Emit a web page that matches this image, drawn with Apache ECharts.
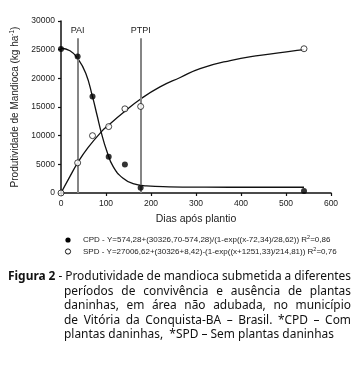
<!DOCTYPE html>
<html>
<head>
<meta charset="utf-8">
<script src="https://cdn.jsdelivr.net/npm/echarts@6/dist/echarts.min.js"></script>
<style>
html, body { margin: 0; padding: 0; background: #fff; }
#chart { width: 359px; height: 365px; }
</style>
</head>
<body>
<div id="chart"></div>
<script>
// observed points (days after planting, yield kg/ha)
const days = [0, 37, 70, 106, 142, 177, 540];
const cpdYield = [25100, 23800, 16840, 6320, 4980, 900, 350];
const spdYield = [0, 5260, 10000, 11580, 14680, 15090, 25160];

// fitted curves
const cpdCurveDays = [0, 20, 37, 55, 70, 80, 90, 101, 116, 138, 160, 190, 240, 320, 430, 540];
const cpdCurveYield = [25250, 24800, 23500, 20900, 16800, 13600, 10400, 7500, 4600, 2560, 1650, 1250, 1080, 1020, 1000, 1000];
const spdCurveDays = [0, 20, 37, 60, 90, 106, 142, 177, 220, 265, 309, 376, 442, 509, 540];
const spdCurveYield = [0, 2900, 5260, 7900, 10700, 11860, 14250, 16400, 18500, 20150, 21700, 23100, 24000, 24700, 25000];

// reference lines
const markerNames = ['PAI', 'PTPI'];
const markerDays = [37, 177];
const markerTop = 27000;

const legendLines = [
    'CPD - Y=574,28+(30326,70-574,28)/(1-exp((x-72,34)/28,62)) R{sup|2}=0,86',
    'SPD - Y=27006,62+(30326+8,42)-(1-exp((x+1251,33)/214,81)) R{sup|2}=0,76'
];

const captionLines = [
    'Figura 2 - Produtividade de mandioca submetida a diferentes',
    'períodos de convivência e ausência de plantas',
    'daninhas, em área não adubada, no município',
    'de Vitória da Conquista-BA – Brasil. *CPD – Com',
    'plantas daninhas,  *SPD – Sem plantas daninhas'
];

const zip = (xs, ys) => xs.map((x, i) => [x, ys[i]]);
const AX = 'Liberation Sans, Arial, sans-serif';

// caption layout (justified, condensed)
const FS = 12.5;
const ctx = document.createElement('canvas').getContext('2d');
function tw(t, bold) {
    ctx.font = (bold ? 'bold ' : '') + FS + 'px "Noto Sans"';
    return ctx.measureText(t).width;
}
const sx = 270 / tw(captionLines[4], false);
const capY = [276, 291, 305.5, 320, 334.5];
const capGraphics = [];
function capText(t, x, y, bold) {
    capGraphics.push({
        type: 'text', x: x, y: y, scaleX: sx, silent: true,
        style: {text: t, fontSize: FS, fontFamily: 'Noto Sans', fontWeight: bold ? 'bold' : 'normal',
            fill: '#111', verticalAlign: 'middle', align: 'left'}
    });
}
captionLines.forEach((line, li) => {
    const left = li === 0 ? 8 : 64;
    const right = 351;
    if (li === 4) {
        capText(line, left, capY[li], false);
        return;
    }
    const words = line.split(' ');
    const bolds = words.map((w, i) => li === 0 && i < 2);
    const widths = words.map((w, i) => tw(w, bolds[i]) * sx);
    const total = widths.reduce((a, b) => a + b, 0);
    const gap = (right - left - total) / (words.length - 1);
    let x = left;
    words.forEach((w, i) => {
        capText(w, x, capY[li], bolds[i]);
        x += widths[i] + gap;
    });
});

const legendGraphics = [];
const legendY = [240, 251.5];
legendLines.forEach((t, i) => {
    legendGraphics.push({
        type: 'circle', silent: true,
        shape: {cx: 68, cy: legendY[i], r: 2.6},
        style: i === 0 ? {fill: '#000'} : {fill: '#fff', stroke: '#000', lineWidth: 0.9}
    });
    legendGraphics.push({
        type: 'text', x: 83, y: legendY[i], silent: true,
        style: {text: t, fontSize: 8, fontFamily: AX, fill: '#222', verticalAlign: 'middle',
            rich: {sup: {fontSize: 5.5, fontFamily: AX, fill: '#222', padding: [0, 0, 5, 0]}}}
    });
});

const chart = echarts.init(document.getElementById('chart'));
chart.setOption({
    animation: false,
    backgroundColor: '#fff',
    grid: {left: 61, top: 21, width: 270, height: 172},
    xAxis: {
        type: 'value', min: 0, max: 600, interval: 100,
        name: 'Dias após plantio', nameLocation: 'middle', nameGap: 21,
        nameTextStyle: {fontSize: 10.5, fontFamily: AX, color: '#222'},
        axisLine: {lineStyle: {color: '#111', width: 1.5}},
        axisTick: {length: 3, lineStyle: {color: '#111', width: 1.2}},
        axisLabel: {fontSize: 8.5, fontFamily: AX, color: '#222', margin: 6, formatter: v => String(v)},
        splitLine: {show: false}
    },
    yAxis: {
        type: 'value', min: 0, max: 30000, interval: 5000,
        name: 'Produtividade de Mandioca (kg ha{sup|-1})', nameLocation: 'middle', nameGap: 38,
        nameTextStyle: {fontSize: 10, fontFamily: AX, color: '#222',
            rich: {sup: {fontSize: 6.5, fontFamily: AX, color: '#222', padding: [0, 0, 6, 0]}}},
        axisLine: {show: true, lineStyle: {color: '#111', width: 1.5}},
        axisTick: {show: true, length: 3, lineStyle: {color: '#111', width: 1.2}},
        axisLabel: {fontSize: 8.5, fontFamily: AX, color: '#222', margin: 6, formatter: v => String(v)},
        splitLine: {show: false}
    },
    graphic: legendGraphics.concat(capGraphics),
    series: [
        {
            type: 'line', name: 'CPD fit', data: zip(cpdCurveDays, cpdCurveYield),
            showSymbol: false, smooth: 0.5, silent: true, z: 3,
            lineStyle: {color: '#111', width: 1.3},
            markLine: {
                silent: true, symbol: ['none', 'none'], animation: false,
                lineStyle: {color: '#858585', width: 2, type: 'solid'},
                label: {show: true, position: 'end', formatter: '{b}', distance: 3,
                    fontSize: 9, fontFamily: AX, color: '#222'},
                data: markerDays.map((d, i) => [
                    {coord: [d, 0], name: markerNames[i]},
                    {coord: [d, markerTop]}
                ])
            }
        },
        {
            type: 'line', name: 'SPD fit', data: zip(spdCurveDays, spdCurveYield),
            showSymbol: false, smooth: 0.5, silent: true, z: 3,
            lineStyle: {color: '#111', width: 1.3}
        },
        {
            type: 'scatter', name: 'CPD', data: zip(days, cpdYield),
            symbol: 'circle', symbolSize: 6, z: 5,
            itemStyle: {color: '#000'}
        },
        {
            type: 'scatter', name: 'SPD', data: zip(days, spdYield),
            symbol: 'circle', symbolSize: 6, z: 5,
            itemStyle: {color: '#fff', borderColor: '#000', borderWidth: 0.9}
        }
    ]
});
</script>
</body>
</html>
